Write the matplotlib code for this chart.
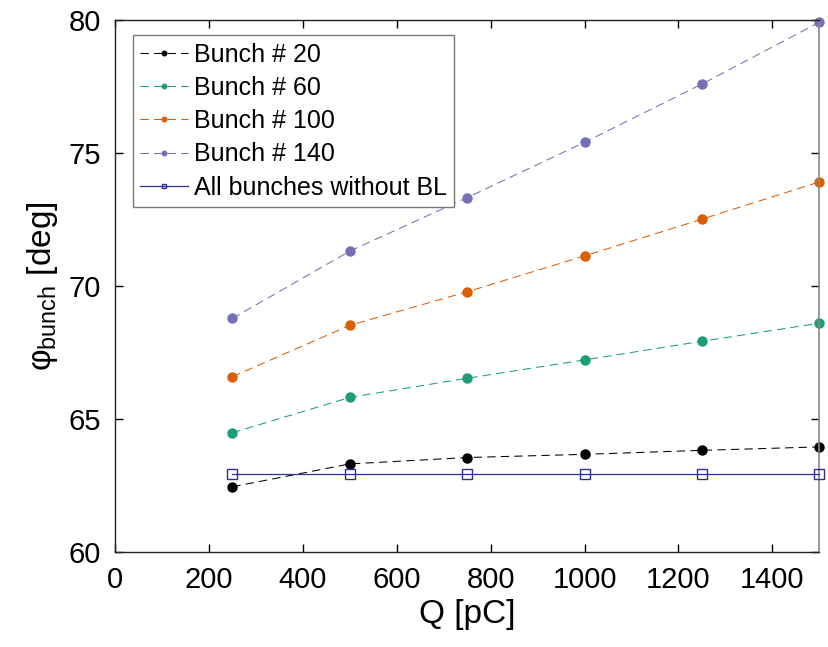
import matplotlib
matplotlib.use("Agg")
import matplotlib.pyplot as plt

plt.rcParams['font.family'] = ['Liberation Sans', 'DejaVu Sans']
plt.rcParams['mathtext.fontset'] = 'custom'
plt.rcParams['mathtext.rm'] = 'Liberation Sans'

# Bunch charge [pC]
charge = [250, 500, 750, 1000, 1250, 1500]

# Bunch phase [deg] for selected bunches with beam loading
phase_b20 = [62.44, 63.30, 63.54, 63.66, 63.81, 63.94]
phase_b60 = [64.47, 65.80, 66.52, 67.21, 67.91, 68.59]
phase_b100 = [66.58, 68.51, 69.77, 71.12, 72.50, 73.90]
phase_b140 = [68.77, 71.30, 73.31, 75.39, 77.58, 79.90]
# Phase of all bunches without beam loading
phase_no_bl = [62.93, 62.93, 62.93, 62.93, 62.93, 62.93]

series_labels = ['Bunch # 20', 'Bunch # 60', 'Bunch # 100', 'Bunch # 140']
series_values = [phase_b20, phase_b60, phase_b100, phase_b140]
series_colors = ['#000000', '#1b9e77', '#d95f02', '#7570b3']
no_bl_label = 'All bunches without BL'

x_ticks = [0, 200, 400, 600, 800, 1000, 1200, 1400]
y_ticks = [60, 65, 70, 75, 80]

fig = plt.figure(figsize=(8.29, 6.47), dpi=100)
ax = fig.add_axes([0.1387, 0.1473, 0.8496, 0.8223])

for lab, vals, col in zip(series_labels, series_values, series_colors):
    ax.plot(charge, vals, linestyle=(0, (8, 5)), linewidth=0.75, color=col,
            marker='o', markersize=6.5, markerfacecolor=col,
            markeredgecolor=col, label=lab, clip_on=False)

ax.plot(charge, phase_no_bl, linestyle='-', linewidth=0.9, color='#2f2f9f',
        marker='s', markersize=6.5, markerfacecolor='none',
        markeredgecolor='#2f2f9f', markeredgewidth=1.0, label=no_bl_label,
        clip_on=False, zorder=3)

ax.set_xlim(0, 1500)
ax.set_ylim(60, 80)
ax.set_xticks(x_ticks)
ax.set_yticks(y_ticks)
ax.tick_params(direction='in', length=6, width=1.0, labelsize=21,
               top=True, right=True, pad=10)

for side in ['left', 'bottom', 'top']:
    ax.spines[side].set_color('#222222')
    ax.spines[side].set_linewidth(1.0)
ax.spines['right'].set_color('#888888')
ax.spines['right'].set_linewidth(1.2)

ax.set_xlabel('Q [pC]', fontsize=24, labelpad=4)
ax.set_ylabel(r'φ$_{\mathregular{bunch}}$ [deg]', fontsize=24, labelpad=6)

leg = ax.legend(loc='upper left', bbox_to_anchor=(0.025, 0.971),
                borderaxespad=0, fontsize=18, frameon=True, fancybox=False,
                edgecolor='#777777', framealpha=1, markerscale=0.5,
                handlelength=1.9, handletextpad=0.25, labelspacing=0.37,
                borderpad=0.3)
leg.get_frame().set_linewidth(1.0)

fig.savefig('out.png', dpi=100)
